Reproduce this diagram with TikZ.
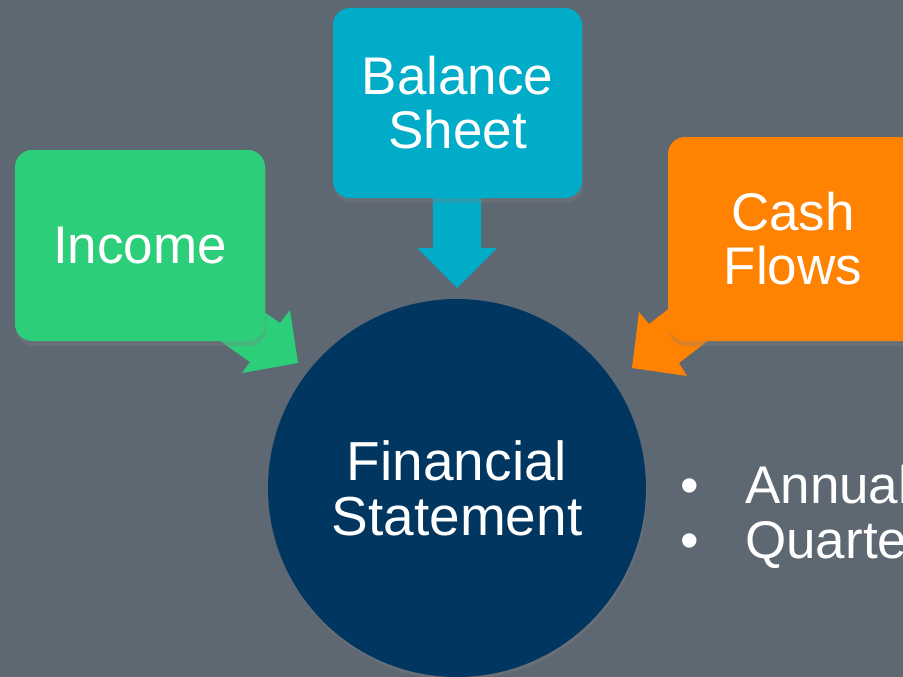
\documentclass[tikz,border=0pt]{standalone}
\usepackage{fontspec}
\setmainfont{Liberation Sans}
\usetikzlibrary{shadows}
\definecolor{bgc}{RGB}{94,104,114}
\definecolor{incg}{RGB}{45,206,122}
\definecolor{balt}{RGB}{0,172,200}
\definecolor{casho}{RGB}{255,130,0}
\definecolor{navyc}{RGB}{0,54,96}
\begin{document}
\begin{tikzpicture}[x=1pt,y=-1pt,
  box/.style={rounded corners=17pt, text=white, align=center, inner sep=0pt,
    font=\fontsize{53}{54}\selectfont,
    drop shadow={shadow xshift=1pt,shadow yshift=-5pt,opacity=0.3}},
  lbl/.style={text=white, inner sep=0pt, font=\fontsize{53}{54}\selectfont}]
\fill[bgc] (0,0) rectangle (903,677);
\useasboundingbox (0,0) rectangle (903,677);
\clip (0,0) rectangle (903,677);
% arrows
\fill[incg] (230,288) -- (280,323) -- (290,310) -- (298,363) -- (242,373) -- (250,362) -- (200,327) -- cycle;
\fill[balt] (433,190) -- (433,248) -- (417,248) -- (457,288) -- (497,248) -- (481,248) -- (481,190) -- cycle;
\fill[casho] (697,287) -- (649,324) -- (639,312) -- (632,368) -- (687,376) -- (679,363) -- (727,326) -- cycle;
% boxes
\node[box, fill=incg, minimum width=250pt, minimum height=191pt] (income) at (140,245.5) {Income};
\node[box, fill=balt, minimum width=249pt, minimum height=190pt] (balance) at (457.5,103) {Balance\\Sheet};
\node[box, fill=casho, minimum width=250pt, minimum height=204pt] (cash) at (793,239) {Cash\\Flows};
\node[circle, fill=navyc, minimum size=378pt, inner sep=0pt, text=white, align=center,
  font=\fontsize{55}{55}\selectfont,
  drop shadow={shadow xshift=1pt,shadow yshift=-3pt,opacity=0.3}] (fs) at (457,488) {Financial\\Statement};
% bullets
\node[lbl, anchor=base] (b1) at (690,503) {•};
\node[lbl, anchor=base west] (annual) at (745,503) {Annual};
\node[lbl, anchor=base] (b2) at (690,558) {•};
\node[lbl, anchor=base west] (quarterly) at (745,558) {Quarterly};
\end{tikzpicture}
\end{document}
